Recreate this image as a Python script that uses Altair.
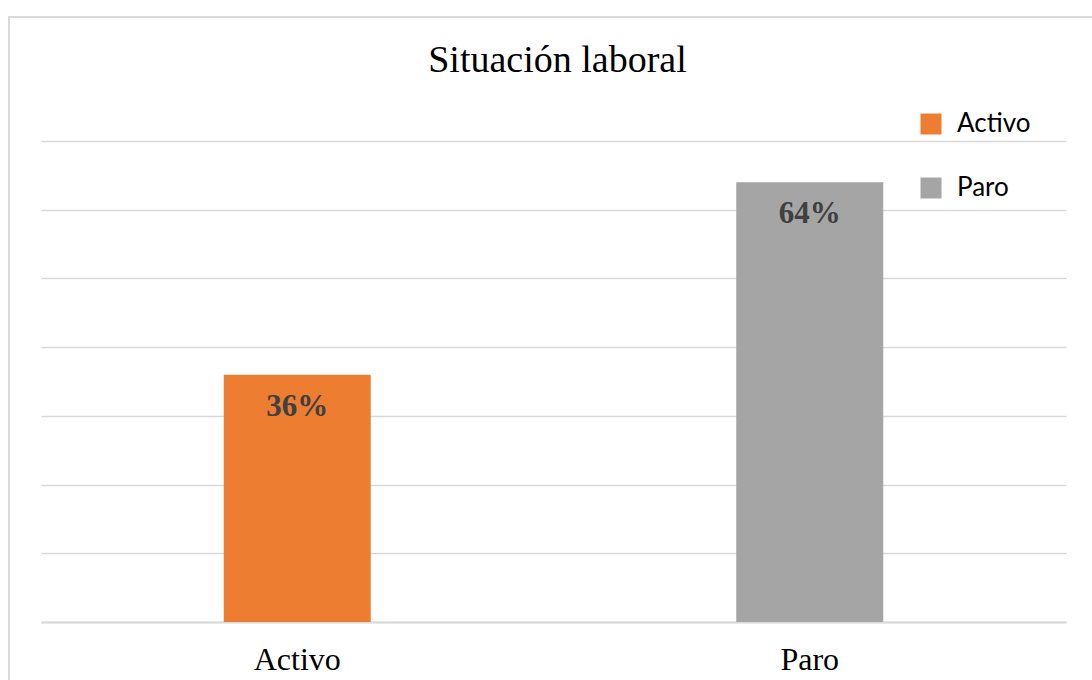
import altair as alt
import pandas as pd

# Employment situation shares (percent)
categories = ["Activo", "Paro"]
shares = [36, 64]
labels = ["36%", "64%"]
colors = ["#ED7D31", "#A5A5A5"]

df = pd.DataFrame({"situacion": categories, "pct": shares, "label": labels})

W, H = 1025, 481
SERIF = "Times New Roman"

x_enc = alt.X(
    "situacion:N",
    sort=categories,
    scale=alt.Scale(paddingInner=0, paddingOuter=0),
    axis=alt.Axis(
        title=None,
        labelAngle=0,
        labelFont=SERIF,
        labelFontSize=32,
        labelColor="#000000",
        labelBaseline="alphabetic",
        labelPadding=47,
        ticks=False,
        tickSize=0,
        domain=True,
        domainColor="#D9D9D9",
        domainWidth=2,
        grid=False,
    ),
)

y_enc = alt.Y(
    "pct:Q",
    scale=alt.Scale(domain=[0, 70], nice=False),
    axis=alt.Axis(
        title=None,
        labels=False,
        ticks=False,
        domain=False,
        values=[0, 10, 20, 30, 40, 50, 60, 70],
        gridColor="#D9D9D9",
        gridWidth=1.4,
    ),
)

bars = alt.Chart(df).mark_bar(size=147).encode(
    x=x_enc,
    y=y_enc,
    color=alt.Color(
        "situacion:N",
        sort=categories,
        scale=alt.Scale(domain=categories, range=colors),
        legend=alt.Legend(
            title=None,
            orient="none",
            legendX=877,
            legendY=-30,
            symbolType="square",
            symbolSize=441,
            symbolStrokeWidth=0,
            labelFont="Lato",
            labelFontSize=26,
            labelColor="#000000",
            labelOffset=13,
            rowPadding=38,
        ),
    ),
)

text = alt.Chart(df).mark_text(
    font=SERIF,
    fontSize=31,
    fontWeight="bold",
    color="#404040",
    baseline="alphabetic",
    dy=41,
).encode(x=alt.X("situacion:N", sort=categories), y="pct:Q", text="label:N")

# Outer frame around the whole figure
frame = alt.Chart(df).mark_rect(
    fill=None, stroke="#D9D9D9", strokeWidth=2
).encode(
    x=alt.value(-32), x2=alt.value(1200), y=alt.value(-124), y2=alt.value(700)
)

chart = alt.layer(frame, bars, text).properties(
    width=W,
    height=H,
    title=alt.TitleParams(
        "Situación laboral",
        font=SERIF,
        fontSize=38,
        fontWeight="normal",
        color="#000000",
        anchor="middle",
        frame="group",
        baseline="alphabetic",
        offset=-94,
        dx=4,
    ),
    autosize=alt.AutoSizeParams(type="none"),
    padding={"left": 41, "top": 141, "right": 26, "bottom": 58},
).configure(background="#FFFFFF").configure_view(stroke=None)

chart.save("out.html", embed_options={"renderer": "svg", "actions": False})
